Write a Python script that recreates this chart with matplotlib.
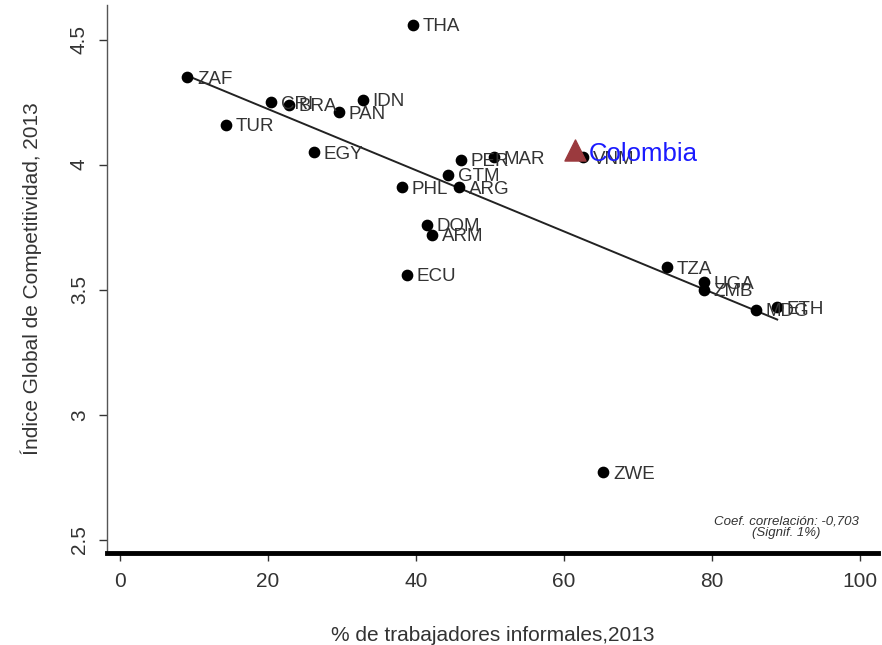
import numpy as np
import matplotlib.pyplot as plt

plt.rcParams["font.family"] = ["Liberation Sans", "DejaVu Sans"]

# datos
paises = ["ZAF", "THA", "CRI", "BRA", "IDN", "PAN", "TUR", "EGY", "PER", "MAR",
          "GTM", "ARG", "PHL", "DOM", "ARM", "ECU", "VNM", "TZA", "UGA", "ZMB",
          "MDG", "ETH", "ZWE"]
informales = [9.1, 39.6, 20.4, 22.8, 32.8, 29.6, 14.3, 26.2, 46.1, 50.5,
              44.3, 45.8, 38.1, 41.5, 42.2, 38.8, 62.6, 73.9, 78.9, 78.9,
              85.9, 88.8, 65.3]
competitividad = [4.35, 4.56, 4.25, 4.24, 4.26, 4.21, 4.16, 4.05, 4.02, 4.03,
                  3.96, 3.91, 3.91, 3.76, 3.72, 3.56, 4.03, 3.59, 3.53, 3.50,
                  3.42, 3.43, 2.77]
col_x = 61.5
col_y = 4.06

x = np.array(informales + [col_x])
y = np.array(competitividad + [col_y])


def main():
    fig = plt.figure(figsize=(8.82, 6.45), dpi=100)
    ax = fig.add_axes([0.1213, 0.143, 0.874, 0.85])

    ax.scatter(informales, competitividad, s=55, color="black", zorder=3)
    for p, xi, yi in zip(paises, informales, competitividad):
        ax.annotate(p, (xi, yi), xytext=(7, -1.5), textcoords="offset points",
                    va="center", ha="left", fontsize=13.5, color="#333333")

    # recta de ajuste
    m, b = np.polyfit(x, y, 1)
    xs = np.array([min(informales), max(informales)])
    ax.plot(xs, m * xs + b, color="#222222", linewidth=1.4, zorder=2)

    ax.scatter([col_x], [col_y], marker="^", s=230, color="#9b3a3e", zorder=4)
    ax.annotate("Colombia", (col_x, col_y), xytext=(10, -3), textcoords="offset points",
                va="center", ha="left", fontsize=18.5, color="#1a1aff", zorder=5)

    ax.text(90, 2.55, "Coef. correlación: -0,703\n(Signif. 1%)", ha="center", va="center",
            fontsize=9.5, style="italic", color="#333333", linespacing=1.0)

    ax.set_xlim(-1.76, 102.4)
    ax.set_ylim(2.448, 4.64)
    ax.set_xticks([0, 20, 40, 60, 80, 100])
    ax.set_yticks([2.5, 3, 3.5, 4, 4.5])
    ax.set_yticklabels(["2.5", "3", "3.5", "4", "4.5"], rotation=90, va="center")

    for s in ["top", "right"]:
        ax.spines[s].set_visible(False)
    ax.spines["left"].set_color("#555555")
    ax.spines["left"].set_linewidth(1.0)
    ax.spines["bottom"].set_color("black")
    ax.spines["bottom"].set_linewidth(3.5)
    ax.tick_params(axis="both", labelsize=15, colors="#333333", width=1, length=6)
    ax.tick_params(axis="y", pad=7)
    ax.tick_params(axis="x", pad=8)

    ax.set_xlabel("% de trabajadores informales,2013", fontsize=15, color="#333333", labelpad=25)
    ax.set_ylabel("Índice Global de Competitividad, 2013", fontsize=15, color="#333333", labelpad=20)

    fig.savefig("out.png", dpi=100)


if __name__ == "__main__":
    main()
